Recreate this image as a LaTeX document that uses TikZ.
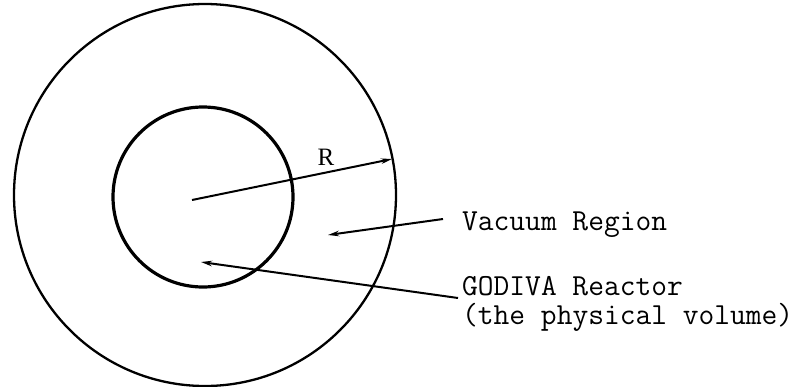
\documentclass[tikz,border=0pt]{standalone}
\usepackage{fontspec}
\setmainfont{Liberation Serif}
\usetikzlibrary{arrows.meta}
\tikzset{
  ring/.style={draw, circle, inner sep=0pt},
  pointer/.style={line width=2pt, -{Stealth[length=11pt,width=5.5pt]}},
  label/.style={font=\fontsize{30.6}{29}\selectfont\ttfamily, inner sep=0pt, align=left},
}
\begin{document}
\begin{tikzpicture}[x=1pt,y=-1pt]
\useasboundingbox (0,0) rectangle (797,386);
\node[ring, line width=2.3pt, minimum size=382pt] (outer) at (205,195) {};
\node[ring, line width=3.2pt, minimum size=180pt] (inner) at (203,197) {};
\coordinate (rstart) at (192,200);
\coordinate (rend) at (392,159);
\draw[pointer] (rstart) -- (rend);
\node[font=\fontsize{25}{27}\selectfont, inner sep=0pt] (rlab) at (326,157) {R};
\node[label, anchor=base west] (vac) at (462,230) {Vacuum Region};
\coordinate (vstart) at (443,219);
\coordinate (vtip) at (328,235);
\draw[pointer] (vstart) -- (vtip);
\node[label, anchor=base west] (god) at (462,324) {GODIVA Reactor\\(the physical volume)};
\coordinate (gstart) at (458,298);
\coordinate (gtip) at (201,262);
\draw[pointer] (gstart) -- (gtip);
\end{tikzpicture}
\end{document}
